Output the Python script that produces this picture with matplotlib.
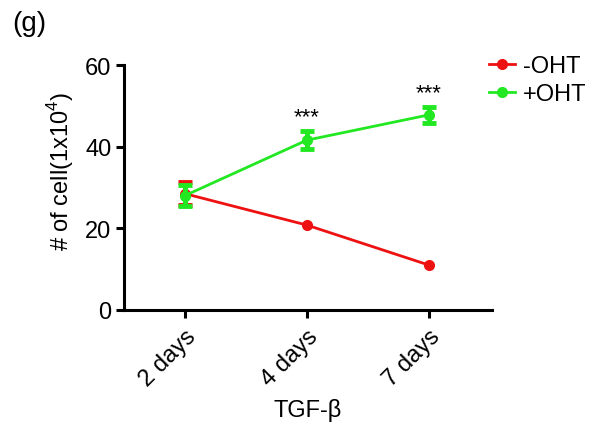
import matplotlib
matplotlib.use("Agg")
import matplotlib.pyplot as plt

plt.rcParams['font.family'] = ['Liberation Sans', 'DejaVu Sans']
plt.rcParams['mathtext.fontset'] = 'custom'
plt.rcParams['mathtext.rm'] = 'Liberation Sans'

# data
days = ["2 days", "4 days", "7 days"]
minus_oht = [28.5, 20.8, 11.0]
minus_err = [2.8, 0.0, 0.0]
plus_oht = [28.0, 41.6, 47.8]
plus_err = [2.6, 2.2, 2.0]
stars = ["", "***", "***"]

red = "#ee1111"
green = "#22e822"

fig = plt.figure(figsize=(5.95, 4.27), dpi=100)
ax = fig.add_axes([0.208, 0.272, 0.619, 0.573])

x = list(range(len(days)))

for vals, errs, col, lab in [(minus_oht, minus_err, red, "-OHT"),
                             (plus_oht, plus_err, green, "+OHT")]:
    ax.plot(x, vals, color=col, marker="o", markersize=7, linewidth=2, label=lab)
    # error bars only where there is a visible spread
    ex = [xi for xi, e in zip(x, errs) if e > 0]
    ey = [v for v, e in zip(vals, errs) if e > 0]
    ee = [e for e in errs if e > 0]
    ax.errorbar(ex, ey, yerr=ee, fmt="none", ecolor=col, elinewidth=3.5,
                capsize=5, capthick=3.5)

for xi, yi, ei, s in zip(x, plus_oht, plus_err, stars):
    if s:
        ax.text(xi, yi + ei + 1.0, s, ha="center", va="bottom", fontsize=16)

ax.set_xlim(-0.5, 2.52)
ax.set_ylim(0, 60)
ax.set_yticks([0, 20, 40, 60])
ax.set_xticks(x)
ax.set_xticklabels(days, rotation=45, ha="right", rotation_mode="anchor")
ax.tick_params(labelsize=17, width=2.2, length=6)
ax.tick_params(axis="x", pad=5)
ax.tick_params(axis="y", pad=3)

for side in ["top", "right"]:
    ax.spines[side].set_visible(False)
for side in ["left", "bottom"]:
    ax.spines[side].set_linewidth(2.2)

ax.set_ylabel("# of cell(1x10$^\\mathregular{4}$)", fontsize=17)
ax.yaxis.set_label_coords(-0.13, 0.57)
ax.set_xlabel("TGF-\u03b2", fontsize=17, labelpad=6)

fig.legend(loc="upper left", bbox_to_anchor=(0.806, 0.89), frameon=False,
           fontsize=17, handlelength=1.1, handletextpad=0.35, labelspacing=0.25,
           borderaxespad=0)
fig.text(0.02, 0.975, "(g)", fontsize=20, va="top")

fig.savefig("out.png", dpi=100)
